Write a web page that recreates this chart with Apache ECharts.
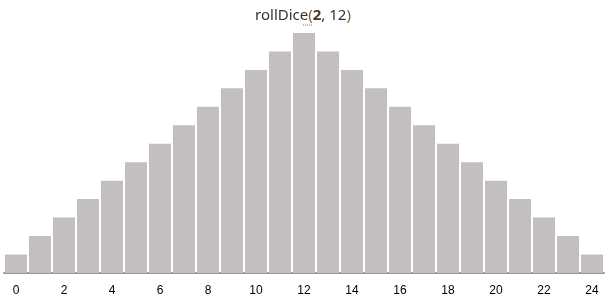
<!DOCTYPE html>
<html><head><meta charset="utf-8">
<script src="https://cdn.jsdelivr.net/npm/echarts@6/dist/echarts.min.js"></script>
<style>html,body{margin:0;padding:0;background:#fff}#c{width:606px;height:300px}</style>
</head><body><div id="c"></div>
<script>
const categories = ['0','1','2','3','4','5','6','7','8','9','10','11','12','13','14','15','16','17','18','19','20','21','22','23','24'];
const counts = [1,2,3,4,5,6,7,8,9,10,11,12,13,12,11,10,9,8,7,6,5,4,3,2,1];
const titleParts = ['rollDice', '(', '2', ', 12', ')'];

const chart = echarts.init(document.getElementById('c'), null, {renderer:'canvas'});
chart.setOption({
  animation: false,
  title: {
    text: '{a|' + titleParts[0] + '}{p|' + titleParts[1] + '}{b|' + titleParts[2] + '}{a|' + titleParts[3] + '}{p|' + titleParts[4] + '}',
    left: 'center', top: 3,
    textStyle: {
      fontWeight: 'normal',
      rich: {
        a: {fontFamily: 'Noto Sans', fontSize: 15, fontWeight: 'normal', color: '#333'},
        p: {fontFamily: 'Noto Sans', fontSize: 15, fontWeight: 'normal', color: '#8a5a2a'},
        b: {fontFamily: 'Noto Sans', fontSize: 15, fontWeight: 'bold', color: '#4a3520'}
      }
    }
  },
  graphic: [{
    type: 'line', shape: {x1: 303, y1: 25, x2: 312, y2: 25},
    style: {stroke: '#777', lineWidth: 1, lineDash: [1, 1]}
  }],
  grid: {left: 4, right: 2, top: 33, bottom: 23},
  xAxis: {
    type: 'category', data: categories,
    axisLine: {lineStyle: {color: '#999', width: 2}},
    axisTick: {show: false},
    axisLabel: {interval: 1, color: '#000', fontFamily: 'Liberation Sans', fontSize: 12, margin: 8}
  },
  yAxis: {
    type: 'value', min: -0.22, max: 13, show: false, splitLine: {show: false}
  },
  series: [{
    type: 'bar', data: counts, barCategoryGap: '8.3%',
    itemStyle: {color: '#c4bfbf'}
  }]
});
</script></body></html>
